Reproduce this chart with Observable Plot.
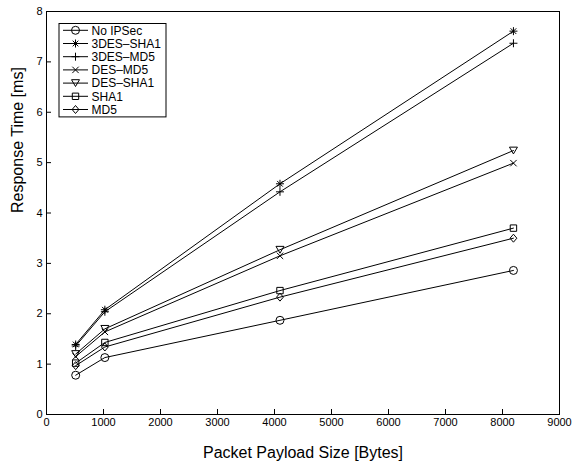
<!DOCTYPE html>
<html>
<head>
<meta charset="utf-8">
<script src="https://cdn.jsdelivr.net/npm/d3@7"></script>
<script src="https://cdn.jsdelivr.net/npm/@observablehq/plot@0.6"></script>
<style>
  html, body { margin: 0; padding: 0; background: white; }
  #chart { width: 572px; height: 464px; }
</style>
</head>
<body>
<div id="chart"></div>
<script>
// ---- data ----
const payloadSizes = [512, 1024, 4096, 8192];
const seriesNames = ["No IPSec", "3DES–SHA1", "3DES–MD5", "DES–MD5", "DES–SHA1", "SHA1", "MD5"];
const noIPSec  = [0.78, 1.13, 1.87, 2.86];
const des3Sha1 = [1.39, 2.08, 4.58, 7.61];
const des3Md5  = [1.36, 2.04, 4.42, 7.37];
const desMd5   = [1.15, 1.64, 3.15, 4.99];
const desSha1  = [1.20, 1.70, 3.27, 5.24];
const sha1     = [1.02, 1.43, 2.46, 3.70];
const md5      = [0.97, 1.34, 2.33, 3.50];
const xTicks = [0, 1000, 2000, 3000, 4000, 5000, 6000, 7000, 8000, 9000];
const yTicks = [0, 1, 2, 3, 4, 5, 6, 7, 8];
const xLabel = "Packet Payload Size [Bytes]";
const yLabel = "Response Time [ms]";

// ---- marker shapes (radius derived from size) ----
const rad = s => Math.sqrt(s / Math.PI);
const symCircle = { draw(c, s) { const r = rad(s); c.moveTo(r, 0); c.arc(0, 0, r, 0, 2 * Math.PI); } };
const symAsterisk = { draw(c, s) { const r = rad(s), d = r * Math.SQRT1_2;
  c.moveTo(-r, 0); c.lineTo(r, 0); c.moveTo(0, -r); c.lineTo(0, r);
  c.moveTo(-d, -d); c.lineTo(d, d); c.moveTo(-d, d); c.lineTo(d, -d); } };
const symPlus = { draw(c, s) { const r = rad(s); c.moveTo(-r, 0); c.lineTo(r, 0); c.moveTo(0, -r); c.lineTo(0, r); } };
const symTimes = { draw(c, s) { const d = rad(s) * 0.8; c.moveTo(-d, -d); c.lineTo(d, d); c.moveTo(-d, d); c.lineTo(d, -d); } };
const symTriDown = { draw(c, s) { const r = rad(s); c.moveTo(-r, -r * 0.85); c.lineTo(r, -r * 0.85); c.lineTo(0, r * 0.85); c.closePath(); } };
const symSquare = { draw(c, s) { const r = rad(s) * 0.8; c.rect(-r, -r, 2 * r, 2 * r); } };
const symDiamond = { draw(c, s) { const r = rad(s); c.moveTo(0, -r); c.lineTo(r * 0.85, 0); c.lineTo(0, r); c.lineTo(-r * 0.85, 0); c.closePath(); } };

const seriesValues = [noIPSec, des3Sha1, des3Md5, desMd5, desSha1, sha1, md5];
const seriesSymbols = [symCircle, symAsterisk, symPlus, symTimes, symTriDown, symSquare, symDiamond];

const rows = [];
seriesNames.forEach((name, i) => {
  payloadSizes.forEach((x, j) => rows.push({ series: name, x, y: seriesValues[i][j] }));
});

const font = "'Liberation Sans', Arial, Helvetica, sans-serif";

// legend drawn inside the plot frame
function legend(index, scales, values, dimensions) {
  const g = d3.create("svg:g");
  const left = dimensions.marginLeft + 13, top = dimensions.marginTop + 12.5;
  const w = 107, rowH = 13.2, h = 7 * rowH + 1;
  g.append("rect").attr("x", left).attr("y", top).attr("width", w).attr("height", h)
    .attr("fill", "white").attr("stroke", "black").attr("stroke-width", 1);
  seriesNames.forEach((name, i) => {
    const cy = top + 6.8 + i * rowH;
    g.append("line").attr("x1", left + 4).attr("x2", left + 29).attr("y1", cy).attr("y2", cy)
      .attr("stroke", "black").attr("stroke-width", 1);
    g.append("path").attr("transform", `translate(${left + 16.5},${cy})`)
      .attr("d", d3.symbol(seriesSymbols[i], Math.PI * 4 * 4)())
      .attr("fill", "none").attr("stroke", "black").attr("stroke-width", 1);
    g.append("text").attr("x", left + 32.5).attr("y", cy).attr("dy", "0.35em")
      .attr("text-anchor", "start")
      .attr("font-size", 12).attr("font-family", font).attr("fill", "black").text(name);
  });
  return g.node();
}

const marks = [
  Plot.frame({ stroke: "black", strokeWidth: 1 }),
  Plot.axisX({ ticks: xTicks, tickSize: -5, tickPadding: 9, label: null, fontSize: 11, tickFormat: d => String(d) }),
  Plot.axisY({ ticks: yTicks, tickSize: -5, tickPadding: 9, label: null, fontSize: 11, tickFormat: d => String(d) }),
  Plot.line(rows, { x: "x", y: "y", z: "series", stroke: "black", strokeWidth: 1 })
];
seriesNames.forEach((name, i) => {
  marks.push(Plot.dot(rows.filter(d => d.series === name), {
    x: "x", y: "y", r: 4, symbol: seriesSymbols[i], stroke: "black", fill: "none", strokeWidth: 1
  }));
});
marks.push(Plot.text([xLabel], { frameAnchor: "bottom", lineAnchor: "bottom", dy: 43, fontSize: 16, fill: "black" }));
marks.push(Plot.text([yLabel], { frameAnchor: "left", rotate: -90, lineAnchor: "bottom", dx: -24, fontSize: 16, fill: "black" }));
marks.push(legend);

const chart = Plot.plot({
  width: 572,
  height: 464,
  marginLeft: 46,
  marginRight: 13,
  marginTop: 11,
  marginBottom: 50,
  x: { domain: [0, 9000] },
  y: { domain: [0, 8] },
  style: { fontFamily: font, fontSize: "11px", color: "black", background: "white" },
  marks
});
document.getElementById("chart").appendChild(chart);
</script>
</body>
</html>
